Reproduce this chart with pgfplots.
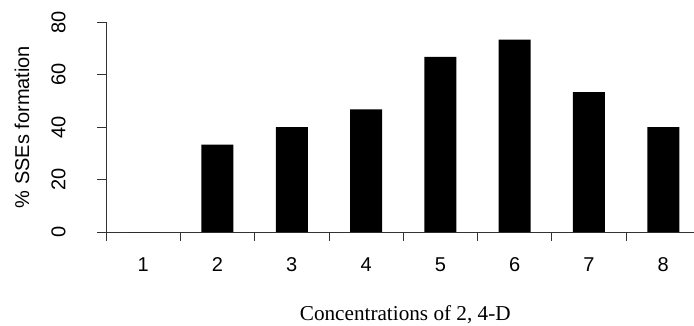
\documentclass[border=0pt]{standalone}
\usepackage{fontspec}
\setmainfont{Liberation Serif}
\setsansfont{Liberation Sans}
\usepackage{pgfplots}
\pgfplotsset{compat=1.18}
\begin{document}
\begin{tikzpicture}
\path[use as bounding box] (0,0) rectangle (694pt,325pt);
\begin{axis}[
  at={(106pt,93pt)}, anchor=south west,
  scale only axis,
  width=588.5pt, height=210pt,
  xmin=0.5, xmax=8.42, ymin=0, ymax=80,
  axis x line=bottom, axis y line=left,
  axis line style={-, line width=0.8pt, black!80},
  tick style={line width=0.8pt, black!80},
  tick align=outside,
  major tick length=9pt,
  xtick={0.5,1.5,2.5,3.5,4.5,5.5,6.5,7.5},
  xticklabels={},
  extra x ticks={1,2,3,4,5,6,7,8},
  extra x tick labels={1,2,3,4,5,6,7,8},
  extra x tick style={major tick length=0pt},
  xticklabel shift=22pt,
  ytick={0,20,40,60,80},
  yticklabel style={rotate=90, anchor=south},
  yticklabel shift=28pt,
  /pgf/number format/assume math mode=true,
  tick label style={font=\sffamily\fontsize{20}{24}\selectfont},
  xlabel={Concentrations of 2, 4-D},
  xlabel style={font=\rmfamily\fontsize{21.2}{24}\selectfont, at={(axis description cs:0.5,0)}, anchor=center, yshift=-83pt, xshift=5pt},
  ylabel={\% SSEs formation},
  ylabel style={font=\sffamily\fontsize{20}{24}\selectfont, at={(axis description cs:-0.1428,0.5)}, anchor=center},
  ybar, bar width=32pt,
  clip=false,
]
\addplot[fill=black, draw=none] coordinates {
  (1,0) (2,33.3) (3,40) (4,46.7) (5,66.7) (6,73.3) (7,53.3) (8,40)
};
\end{axis}
\end{tikzpicture}
\end{document}
